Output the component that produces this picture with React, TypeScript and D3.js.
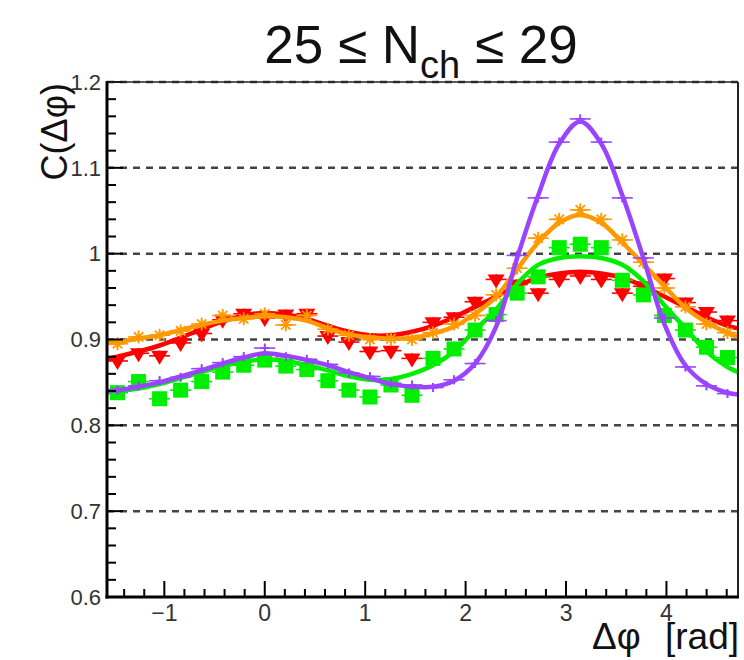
import React from 'react';
import * as d3 from 'd3';

// ---------- data ----------
const N_BINS = 30;
const PHI_MIN = -Math.PI / 2;
const PHI_MAX = (3 * Math.PI) / 2;
const binCenters = d3.range(N_BINS).map((k) => PHI_MIN + ((k + 0.5) * (PHI_MAX - PHI_MIN)) / N_BINS);
const curvePhi = [PHI_MIN, ...binCenters, PHI_MAX];

const xMajorTicks = [-1, 0, 1, 2, 3, 4];
const xTickLabels = ['\u22121', '0', '1', '2', '3', '4'];
const yMajorTicks = [0.6, 0.7, 0.8, 0.9, 1.0, 1.1, 1.2];
const yTickLabels = ['0.6', '0.7', '0.8', '0.9', '1', '1.1', '1.2'];
const yGridValues = [0.7, 0.8, 0.9, 1.0, 1.1, 1.2];

const redPoints = [0.875, 0.884, 0.881, 0.896, 0.907, 0.923, 0.930, 0.925, 0.929, 0.930, 0.904, 0.897, 0.886, 0.887, 0.878, 0.920, 0.926, 0.944, 0.970, 0.964, 0.954, 0.970, 0.974, 0.970, 0.954, 0.962, 0.971, 0.943, 0.932, 0.922];
const redCurve = [0.877, 0.880, 0.886, 0.893, 0.902, 0.912, 0.921, 0.928, 0.931, 0.929, 0.924, 0.916, 0.909, 0.905, 0.905, 0.909, 0.916, 0.926, 0.938, 0.950, 0.962, 0.972, 0.977, 0.979, 0.977, 0.972, 0.962, 0.950, 0.938, 0.926, 0.916, 0.913];

const orangePoints = [0.895, 0.903, 0.905, 0.910, 0.918, 0.928, 0.924, 0.930, 0.917, 0.928, 0.912, 0.905, 0.900, 0.901, 0.900, 0.908, 0.918, 0.928, 0.952, 0.983, 1.018, 1.040, 1.051, 1.040, 1.016, 0.990, 0.960, 0.938, 0.918, 0.908];
const orangeCurve = [0.896, 0.897, 0.901, 0.905, 0.911, 0.917, 0.922, 0.925, 0.927, 0.926, 0.922, 0.913, 0.906, 0.9025, 0.901, 0.902, 0.907, 0.915, 0.930, 0.950, 0.982, 1.013, 1.036, 1.045, 1.036, 1.013, 0.988, 0.962, 0.937, 0.920, 0.908, 0.903];

const greenPoints = [0.838, 0.851, 0.831, 0.841, 0.851, 0.862, 0.870, 0.876, 0.869, 0.865, 0.852, 0.841, 0.833, 0.847, 0.835, 0.878, 0.889, 0.911, 0.929, 0.954, 0.973, 1.007, 1.011, 1.007, 0.969, 0.952, 0.928, 0.911, 0.891, 0.879];
const greenCurve = [0.838, 0.840, 0.843, 0.848, 0.855, 0.862, 0.869, 0.874, 0.877, 0.875, 0.870, 0.864, 0.857, 0.853, 0.854, 0.860, 0.870, 0.886, 0.911, 0.935, 0.965, 0.987, 0.995, 0.997, 0.995, 0.987, 0.968, 0.940, 0.913, 0.886, 0.868, 0.862];

const purplePoints = [0.841, 0.846, 0.852, 0.856, 0.866, 0.873, 0.880, 0.890, 0.880, 0.877, 0.871, 0.861, 0.857, 0.849, 0.847, 0.844, 0.853, 0.872, 0.922, 0.998, 1.065, 1.130, 1.157, 1.130, 1.065, 0.995, 0.925, 0.868, 0.846, 0.837];
const purpleCurve = [0.840, 0.841, 0.845, 0.850, 0.857, 0.864, 0.872, 0.879, 0.884, 0.881, 0.876, 0.870, 0.862, 0.855, 0.848, 0.845, 0.845, 0.852, 0.872, 0.915, 0.995, 1.068, 1.128, 1.154, 1.128, 1.068, 0.995, 0.918, 0.870, 0.848, 0.838, 0.836];

const series = [
  { name: 'red', color: '#ff0000', marker: 'triDown', points: redPoints, curve: redCurve, err: 0.006 },
  { name: 'orange', color: '#ff9900', marker: 'star', points: orangePoints, curve: orangeCurve, err: 0.005 },
  { name: 'green', color: '#00ee00', marker: 'square', points: greenPoints, curve: greenCurve, err: 0.004 },
  { name: 'purple', color: '#9945ff', marker: 'plus', points: purplePoints, curve: purpleCurve, err: 0.005 },
];

// ---------- layout ----------
const W = 744;
const H = 660;
const LEFT = 107;
const RIGHT = 738;
const TOP = 82;
const BOTTOM = 597;
const FONT = '"Liberation Sans", Arial, Helvetica, sans-serif';

const x = d3.scaleLinear().domain([PHI_MIN, PHI_MAX]).range([LEFT, RIGHT]);
const y = d3.scaleLinear().domain([0.6, 1.2]).range([BOTTOM, TOP]);
const binW = x(binCenters[1]) - x(binCenters[0]);

function Marker({ type, color, cx, cy }: { type: string; color: string; cx: number; cy: number }) {
  if (type === 'square') {
    return <rect x={cx - 7.5} y={cy - 7.5} width={15} height={15} fill={color} />;
  }
  if (type === 'triDown') {
    return <path d={`M${cx - 8.5},${cy - 5} L${cx + 8.5},${cy - 5} L${cx},${cy + 9} Z`} fill={color} />;
  }
  if (type === 'star') {
    const r = 6.5;
    const d = r * 0.72;
    return (
      <g stroke={color} strokeWidth={1.8}>
        <line x1={cx - r} y1={cy} x2={cx + r} y2={cy} />
        <line x1={cx} y1={cy - r} x2={cx} y2={cy + r} />
        <line x1={cx - d} y1={cy - d} x2={cx + d} y2={cy + d} />
        <line x1={cx - d} y1={cy + d} x2={cx + d} y2={cy - d} />
      </g>
    );
  }
  const r = 4.5;
  return (
    <g stroke={color} strokeWidth={1.8}>
      <line x1={cx - r} y1={cy} x2={cx + r} y2={cy} />
      <line x1={cx} y1={cy - r} x2={cx} y2={cy + r} />
    </g>
  );
}

export default function App() {
  const line = d3
    .line<number>()
    .x((_, i) => x(curvePhi[i]))
    .y((v) => y(v))
    .curve(d3.curveCatmullRom.alpha(0.5));

  const yMinor = d3.range(0, 31).map((i) => 0.6 + i * 0.02);
  const xMinor = d3.range(-7, 24).map((i) => i * 0.2);

  return (
    <svg
      width={W}
      height={H}
      viewBox={`0 0 ${W} ${H}`}
      style={{ position: 'absolute', left: 0, top: 0, background: '#fff' }}
      fontFamily={FONT}
    >
      <rect x={0} y={0} width={W} height={H} fill="#fff" />

      {/* grid */}
      {yGridValues.map((v) => (
        <line key={v} x1={LEFT} x2={RIGHT} y1={y(v)} y2={y(v)} stroke="#444" strokeWidth={2.5} strokeDasharray="7 6" />
      ))}

      {/* series */}
      {series.map((s) => (
        <g key={s.name}>
          {s.points.map((v, i) => {
            const cx = x(binCenters[i]);
            const cy = y(v);
            return (
              <g key={i}>
                <line x1={cx - binW / 2} x2={cx + binW / 2} y1={cy} y2={cy} stroke={s.color} strokeWidth={1.6} />
                <line x1={cx} x2={cx} y1={y(v + s.err)} y2={y(v - s.err)} stroke={s.color} strokeWidth={1.6} />
                <Marker type={s.marker} color={s.color} cx={cx} cy={cy} />
              </g>
            );
          })}
          <path d={line(s.curve) || ''} fill="none" stroke={s.color} strokeWidth={4.5} />
        </g>
      ))}

      {/* ticks */}
      {yMinor.map((v, i) => (
        <line key={'ym' + i} x1={LEFT} x2={LEFT + (i % 5 === 0 ? 16 : 9)} y1={y(v)} y2={y(v)} stroke="#000" strokeWidth={2} />
      ))}
      {xMinor.map((v, i) => {
        const major = Math.abs(v - Math.round(v)) < 1e-6;
        return (
          <line key={'xm' + i} x1={x(v)} x2={x(v)} y1={BOTTOM} y2={BOTTOM - (major ? 16 : 8)} stroke="#000" strokeWidth={2} />
        );
      })}

      {/* frame */}
      <line x1={LEFT} x2={RIGHT} y1={TOP} y2={TOP} stroke="#222" strokeWidth={1.5} />
      <line x1={RIGHT} x2={RIGHT} y1={TOP} y2={BOTTOM} stroke="#222" strokeWidth={2} />
      <line x1={LEFT} x2={LEFT} y1={TOP - 1} y2={BOTTOM + 1.5} stroke="#000" strokeWidth={3} />
      <line x1={LEFT - 1.5} x2={RIGHT + 1} y1={BOTTOM} y2={BOTTOM} stroke="#000" strokeWidth={3} />

      {/* tick labels */}
      {yMajorTicks.map((v, i) => (
        <text key={'yl' + i} x={101} y={y(v)} dy="0.35em" textAnchor="end" fontSize={22} fill="#333">
          {yTickLabels[i]}
        </text>
      ))}
      {xMajorTicks.map((v, i) => (
        <text key={'xl' + i} x={x(v)} y={621} textAnchor="middle" fontSize={23} fill="#333">
          {xTickLabels[i]}
        </text>
      ))}

      {/* axis titles */}
      <text transform="translate(67,83) rotate(-90)" textAnchor="end" fontSize={36} fill="#111">
        C(Δφ)
      </text>
      <text y={649} fontSize={37} fill="#111">
        <tspan x={592}>Δφ</tspan>
        <tspan x={739} textAnchor="end">[rad]</tspan>
      </text>

      {/* title */}
      <text x={421} y={63} textAnchor="middle" fontSize={53} fill="#111">
        25 ≤ N
        <tspan fontSize={38} dy={15}>ch</tspan>
        <tspan dy={-15}> ≤ 29</tspan>
      </text>
    </svg>
  );
}
